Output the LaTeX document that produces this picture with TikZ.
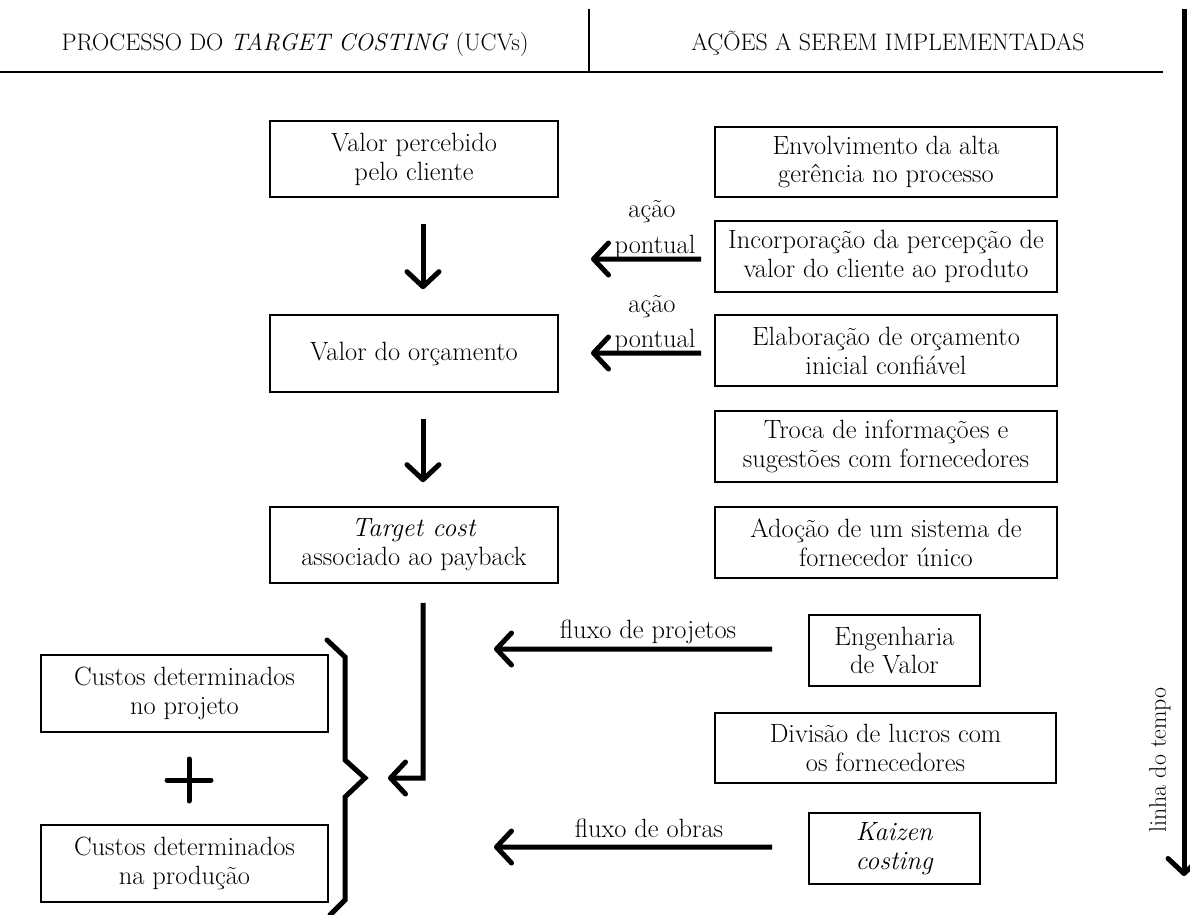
\documentclass[tikz,border=0pt]{standalone}
\usetikzlibrary{arrows.meta}
\begin{document}
\begin{tikzpicture}[x=1bp,y=-1bp,
  txt/.style={font=\fontsize{26.5}{29}\selectfont},
  head/.style={font=\fontsize{24}{29}\selectfont,inner sep=0pt,anchor=base},
  box/.style={txt,draw,line width=1.6bp,inner sep=0pt,align=center},
  lbl/.style={txt,inner sep=0pt,anchor=base},
  flow/.style={line width=5bp,-{Straight Barb[length=15bp,width=32bp,round]}},
  heavy/.style={line width=5bp,line cap=round},
]
\useasboundingbox[fill=white] (0,0) rectangle (1190,915);

% column headings
\node[head] (hl) at (295,50) {PROCESSO DO \textit{TARGET COSTING} (UCVs)};
\node[head] (hr) at (888,50) {AÇÕES A SEREM IMPLEMENTADAS};
\coordinate (rulel) at (0,72);
\coordinate (ruler) at (1163,72);
\draw[line width=2.5bp] (rulel) -- (ruler);
\coordinate (sept) at (589,9);
\draw[line width=1.5bp] (sept) -- (sept |- rulel);

% target costing process
\node[box,minimum width=288bp,minimum height=76bp] (vp) at (414,159) {Valor percebido\\pelo cliente};
\node[box,minimum width=288bp,minimum height=77bp] (vo) at (414,353.5) {Valor do orçamento};
\node[box,minimum width=288bp,minimum height=76bp] (tc) at (414,545) {\textit{Target cost}\\associado ao payback};
\draw[flow] ([xshift=9bp,yshift=-26bp]vp.south) -- ([xshift=9bp,yshift=25bp]vo.north);
\draw[flow] ([xshift=9bp,yshift=-26bp]vo.south) -- ([xshift=9bp,yshift=24bp]tc.north);

% actions
\node[box,minimum width=342bp,minimum height=70bp] (env) at (886,162) {Envolvimento da alta\\gerência no processo};
\node[box,minimum width=342bp,minimum height=71bp] (inc) at (886,256.5) {Incorporação da percepção de\\valor do cliente ao produto};
\node[box,minimum width=342bp,minimum height=71bp] (ela) at (886,350.5) {Elaboração de orçamento\\inicial confiável};
\node[box,minimum width=342bp,minimum height=71bp] (tro) at (886,446.5) {Troca de informações e\\sugestões com fornecedores};
\node[box,minimum width=342bp,minimum height=71bp] (ado) at (886,542.5) {Adoção de um sistema de\\fornecedor único};
\node[box,minimum width=171bp,minimum height=71bp] (eng) at (894.5,650.5) {Engenharia\\de Valor};
\node[box,minimum width=341bp,minimum height=70bp] (div) at (885.5,748) {Divisão de lucros com\\os fornecedores};
\node[box,minimum width=171bp,minimum height=71bp] (kai) at (894.5,848.5) {\textit{Kaizen}\\\textit{costing}};

% one-off actions
\coordinate (pt1) at (591,259);
\coordinate (pt2) at (591,353);
\draw[flow] ([xshift=-13bp,yshift=-2.5bp]inc.west) -- (pt1);
\draw[flow] ([xshift=-13bp,yshift=-2.5bp]ela.west) -- (pt2);
\node[lbl] (ac1) at (652,217) {ação};
\node[lbl] (pu1) at (655,253) {pontual};
\node[lbl] (ac2) at (652,312) {ação};
\node[lbl] (pu2) at (655,347) {pontual};

% continuous flows
\coordinate (fp) at (494,649);
\coordinate (fo) at (494,847);
\draw[flow] ([xshift=-36bp,yshift=1.5bp]eng.west) -- (fp);
\draw[flow] ([xshift=-36bp,yshift=1.5bp]kai.west) -- (fo);
\node[lbl] (lfp) at (648,638) {fluxo de projetos};
\node[lbl] (lfo) at (649,837) {fluxo de obras};

% cost breakdown
\node[box,minimum width=287bp,minimum height=77bp] (cp) at (184.5,693.5) {Custos determinados\\no projeto};
\node[box,minimum width=287bp,minimum height=77bp] (cq) at (184.5,863.5) {Custos determinados\\na produção};
\coordinate (plus) at (189,780);
\draw[heavy] ([xshift=-22bp]plus) -- ([xshift=22bp]plus);
\draw[heavy] ([yshift=21bp]plus) -- ([yshift=-21bp]plus);
\draw[heavy] (327,640) -- (345,657) -- (345,760) -- (365,778) -- (345,797) -- (345,900) -- (330,915);

\coordinate (tcbend) at (423,778);
\coordinate (tcend) at (388,778);
\draw[flow] ([xshift=9bp,yshift=-19bp]tc.south) -- (tcbend) -- (tcend);

% time line
\coordinate (tt) at (1184,9);
\coordinate (tb) at (1184,876);
\draw[flow] (tt) -- (tb);
\node[head,rotate=90,anchor=center] (tl) at (1160,760) {linha do tempo};
\end{tikzpicture}
\end{document}
